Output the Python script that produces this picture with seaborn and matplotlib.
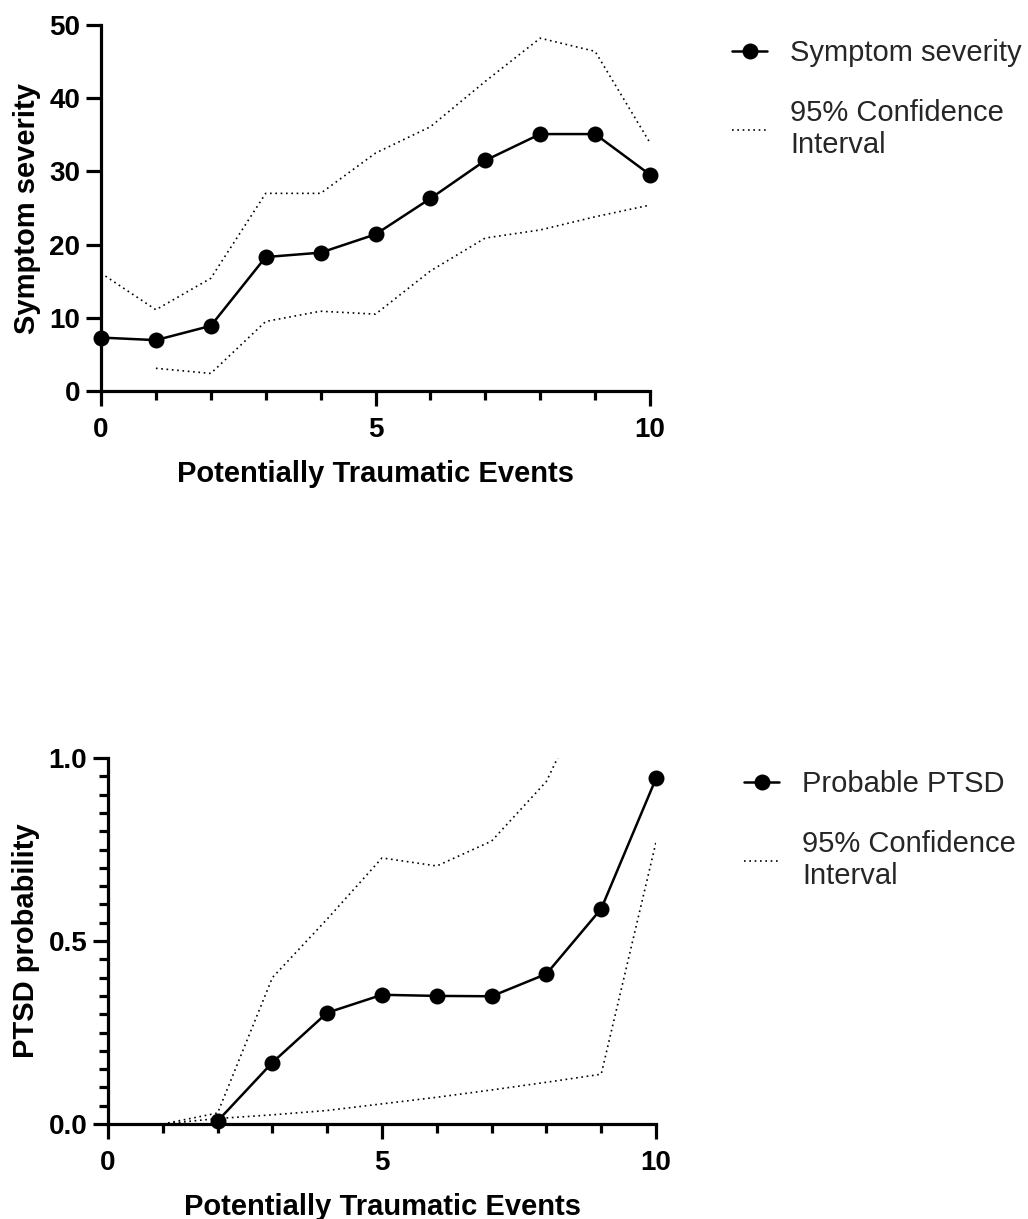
import numpy as np
import pandas as pd
import matplotlib
matplotlib.use("Agg")
import matplotlib.pyplot as plt
import seaborn as sns

# ---- data ----
events = [0, 1, 2, 3, 4, 5, 6, 7, 8, 9, 10]
severity = [7.3, 6.95, 8.9, 18.3, 18.9, 21.4, 26.3, 31.5, 35.1, 35.1, 29.55]
sev_upper = [16.1, 11.1, 15.4, 27.0, 27.0, 32.5, 36.1, 42.3, 48.2, 46.4, 33.9]
sev_lower = [np.nan, 3.1, 2.4, 9.5, 10.9, 10.5, 16.4, 20.9, 22.0, 23.8, 25.4]

ptsd_events = [2, 3, 4, 5, 6, 7, 8, 9, 10]
ptsd_prob = [0.008, 0.168, 0.304, 0.353, 0.350, 0.349, 0.410, 0.588, 0.944]
ci_events = [1, 2, 3, 4, 5, 6, 7, 8, 9, 10]
ptsd_upper = [0.0, 0.03, 0.40, 0.56, 0.727, 0.705, 0.773, 0.936, 1.25, np.nan]
ptsd_lower = [0.0, 0.015, 0.025, 0.037, 0.055, 0.073, 0.093, 0.114, 0.136, 0.77]

x_major = [0, 5, 10]
sev_yticks = [0, 10, 20, 30, 40, 50]
prob_yticks = [0.0, 0.5, 1.0]

sns.set_theme(style="ticks")
plt.rcParams['font.family'] = ['Liberation Sans', 'DejaVu Sans']

fig = plt.figure(figsize=(10.28, 12.19), dpi=100)
W, H = 1028, 1219
ax1 = fig.add_axes([101 / W, 1 - 391 / H, (650 - 101) / W, (391 - 25) / H])
ax2 = fig.add_axes([108 / W, 1 - 1124 / H, (656 - 108) / W, (1124 - 758) / H])

dot = (0, (1, 2.2))

def style_axis(ax, yticks, ylabel, yfmt, yminor=None):
    ax.set_xlim(0, 10)
    ax.set_ylim(yticks[0], yticks[-1])
    sns.despine(ax=ax)
    for s in ("left", "bottom"):
        ax.spines[s].set_linewidth(2.3)
        ax.spines[s].set_color("black")
    ax.set_xticks(x_major)
    ax.set_xticks(events, minor=True)
    ax.set_yticks(yticks)
    ax.set_yticklabels([yfmt(v) for v in yticks])
    if yminor is not None:
        ax.set_yticks(yminor, minor=True)
    ax.tick_params(axis="both", which="major", length=11, width=2.3, color="black",
                   labelsize=20, direction="out")
    ax.tick_params(axis="both", which="minor", length=6.5, width=2.3, color="black",
                   direction="out")
    ax.tick_params(axis="x", which="major", pad=8)
    ax.tick_params(axis="y", which="major", pad=4)
    for lab in ax.get_xticklabels() + ax.get_yticklabels():
        lab.set_fontweight("bold")
        lab.set_color("black")
    ax.set_xlabel("Potentially Traumatic Events", fontsize=21, fontweight="bold",
                  labelpad=12, color="black")
    ax.set_ylabel(ylabel, fontsize=21, fontweight="bold", labelpad=6, color="black")
    ax.grid(False)
    ax.set_facecolor("white")

# ---- top chart ----
df_top = pd.DataFrame({"x": events, "sev": severity, "up": sev_upper, "lo": sev_lower})
sns.lineplot(data=df_top, x="x", y="up", ax=ax1, color="black", lw=1.2,
             linestyle=dot, label="95% Confidence\nInterval")
sns.lineplot(data=df_top, x="x", y="lo", ax=ax1, color="black", lw=1.2,
             linestyle=dot, label="_nolegend_")
sns.lineplot(data=df_top, x="x", y="sev", ax=ax1, color="black", lw=1.8,
             marker="o", markersize=11.5, markeredgewidth=0, label="Symptom severity")
for ln in ax1.get_lines():
    if ln.get_marker() == "o":
        ln.set_clip_on(False)
        ln.set_zorder(5)
style_axis(ax1, sev_yticks, "Symptom severity", lambda v: f"{v:g}")

# ---- bottom chart ----
df_ci = pd.DataFrame({"x": ci_events, "up": ptsd_upper, "lo": ptsd_lower})
df_p = pd.DataFrame({"x": ptsd_events, "p": ptsd_prob})
sns.lineplot(data=df_ci, x="x", y="up", ax=ax2, color="black", lw=1.2,
             linestyle=dot, label="95% Confidence\nInterval")
sns.lineplot(data=df_ci, x="x", y="lo", ax=ax2, color="black", lw=1.2,
             linestyle=dot, label="_nolegend_")
sns.lineplot(data=df_p, x="x", y="p", ax=ax2, color="black", lw=1.8,
             marker="o", markersize=11.5, markeredgewidth=0, label="Probable PTSD")
for ln in ax2.get_lines():
    if ln.get_marker() == "o":
        ln.set_clip_on(False)
        ln.set_zorder(5)
style_axis(ax2, prob_yticks, "PTSD probability", lambda v: f"{v:.1f}",
           yminor=list(np.round(np.arange(0, 1.0001, 0.05), 2)))

# ---- legends ----
for ax, anchor in ((ax1, (732 / W, 1 - 39 / H)), (ax2, (744 / W, 1 - 770 / H))):
    handles, labels = ax.get_legend_handles_labels()
    main_i = [i for i, l in enumerate(labels) if "Confidence" not in l]
    ci_i = [i for i, l in enumerate(labels) if "Confidence" in l]
    order = main_i + ci_i
    leg = ax.get_legend()
    if leg is not None:
        leg.remove()
    fig.legend([handles[i] for i in order], [labels[i] for i in order],
               loc="upper left", bbox_to_anchor=anchor, frameon=False,
               fontsize=21, handlelength=1.2, handletextpad=0.8,
               labelspacing=1.1, borderpad=0, borderaxespad=0)

fig.savefig("out.png", dpi=100, facecolor="white")
